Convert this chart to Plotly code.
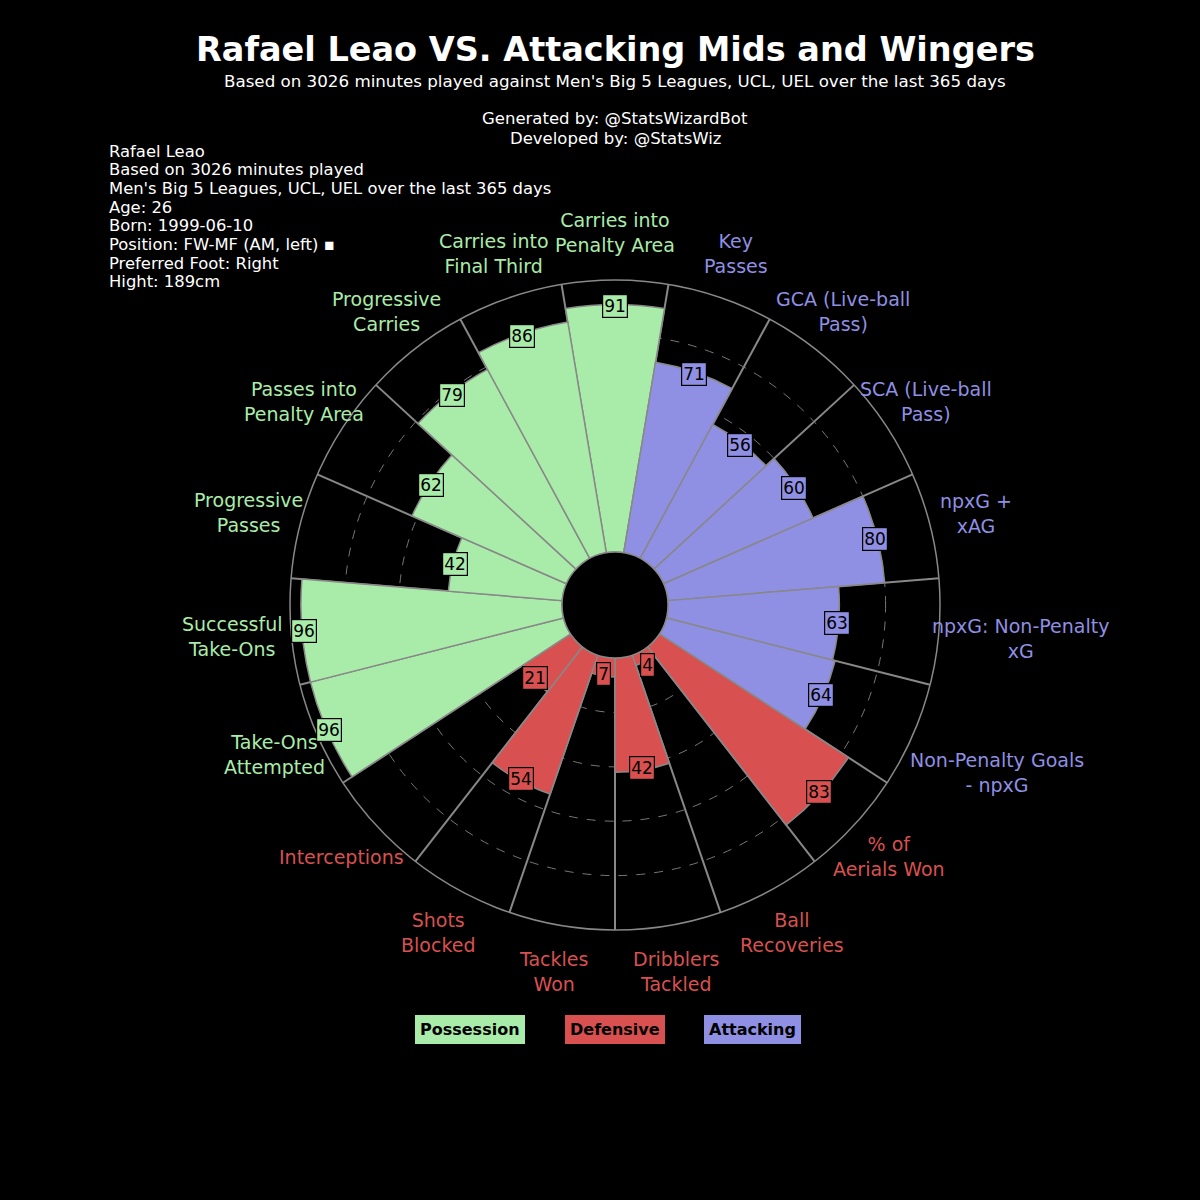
import plotly.graph_objects as go
import math

params = ["Carries into\nPenalty Area", "Key\nPasses", "GCA (Live-ball\nPass)", "SCA (Live-ball\nPass)",
          "npxG +\nxAG", "npxG: Non-Penalty\nxG", "Non-Penalty Goals\n- npxG", "% of\nAerials Won",
          "Ball\nRecoveries", "Dribblers\nTackled", "Tackles\nWon", "Shots\nBlocked", "Interceptions",
          "Take-Ons\nAttempted", "Successful\nTake-Ons", "Progressive\nPasses", "Passes into\nPenalty Area",
          "Progressive\nCarries", "Carries into\nFinal Third"]
values = [91, 71, 56, 60, 80, 63, 64, 83, 4, 42, 7, 54, 21, 96, 96, 42, 62, 79, 86]
groups = ["P", "A", "A", "A", "A", "A", "A", "D", "D", "D", "D", "D", "D", "P", "P", "P", "P", "P", "P"]

colors = {"P": "#a9eca9", "D": "#d95050", "A": "#8f8fe3"}
n = len(values)
w = 360 / n
thetas = [i * w for i in range(n)]

fig = go.Figure()
fig.add_trace(go.Barpolar(
    r=values, theta=thetas, width=[w] * n,
    marker=dict(color=[colors[g] for g in groups], line=dict(color="#888888", width=1.5)),
    hoverinfo="skip", showlegend=False))

W = 1200
cx, cy, R, hole = 615, 605, 325, 53
fig.update_layout(
    width=W, height=W, margin=dict(l=0, r=0, t=0, b=0),
    paper_bgcolor="black", plot_bgcolor="black",
    font=dict(family="DejaVu Sans", color="white"),
    polar=dict(
        domain=dict(x=[(cx - R) / W, (cx + R) / W], y=[1 - (cy + R) / W, 1 - (cy - R) / W]),
        bgcolor="black", hole=hole / R, bargap=0,
        radialaxis=dict(range=[0, 100], tickvals=[20, 40, 60, 80], showticklabels=False,
                        gridcolor="#777777", griddash="dash", gridwidth=1.2, showline=False, ticks=""),
        angularaxis=dict(rotation=90, direction="clockwise",
                         tickvals=[t + w / 2 for t in thetas], showticklabels=False, ticks="",
                         gridcolor="#888888", gridwidth=1.5, linecolor="#888888", linewidth=1.5),
    ),
)

def pos(rpx, th):
    a = math.radians(th)
    return (cx + rpx * math.sin(a)) / W, 1 - (cy - rpx * math.cos(a)) / W

label_extra = {5: 35, 6: 45, 14: 12, 15: 6}
ann = []
for i, (v, th, g, p) in enumerate(zip(values, thetas, groups, params)):
    rpx = hole + v / 100 * (R - hole) - 2
    rpx = max(rpx, 68)
    x, y = pos(rpx, th)
    ann.append(dict(x=x, y=y, xref="paper", yref="paper", text=str(v), showarrow=False,
                    xanchor="center", yanchor="middle",
                    font=dict(size=17, color="black"), bgcolor=colors[g], bordercolor="black",
                    borderwidth=1.2, borderpad=1))
    x, y = pos(372 + label_extra.get(i, 0), th)
    ann.append(dict(x=x, y=y, xref="paper", yref="paper", text=p.replace("\n", "<br>"), showarrow=False,
                    xanchor="center", yanchor="middle",
                    font=dict(size=19, color=colors[g])))

def txt(x, y, text, size, **kw):
    d = dict(x=x / W, y=1 - y / W, xref="paper", yref="paper", showarrow=False, text=text,
             xanchor="center", yanchor="middle", font=dict(size=size, color="white"))
    d.update(kw)
    ann.append(d)

txt(615, 50, "<b>Rafael Leao VS. Attacking Mids and Wingers</b>", 33.5)
txt(615, 81, "Based on 3026 minutes played against Men's Big 5 Leagues, UCL, UEL over the last 365 days", 16.7)
txt(615, 119, "Generated by: @StatsWizardBot", 16.5)
txt(615, 138, "Developed by: @StatsWiz", 16.5)
info = ["Rafael Leao", "Based on 3026 minutes played", "Men's Big 5 Leagues, UCL, UEL over the last 365 days",
        "Age: 26", "Born: 1999-06-10", "Position: FW-MF (AM, left) ▪", "Preferred Foot: Right", "Hight: 189cm"]
for k, line in enumerate(info):
    txt(107, 151 + k * 18.7, line, 16.4, xanchor="left")
for name, g, xp in [("Possession", "P", 470), ("Defensive", "D", 615), ("Attacking", "A", 752)]:
    txt(xp, 1029, f"<b>{name}</b>", 16, bgcolor=colors[g], bordercolor=colors[g], borderpad=4)
    ann[-1]["font"]["color"] = "black"
fig.update_layout(annotations=ann)
fig.write_html("out.html", config={"displayModeBar": False},
               post_script="document.body.style.margin='0';")
